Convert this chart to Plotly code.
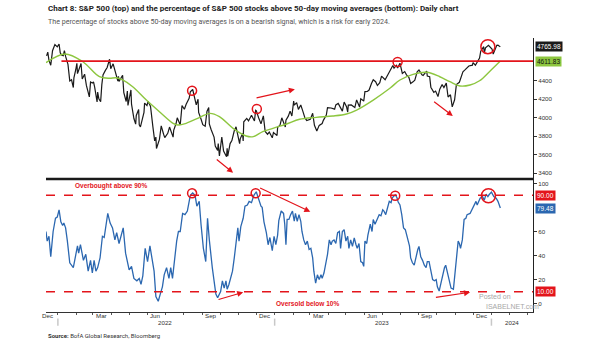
import plotly.graph_objects as go

# ---------------- DATA ----------------
sp_dates = ["2021-12-13","2021-12-15","2021-12-17","2021-12-20","2021-12-23","2021-12-27","2021-12-31",
"2022-01-03","2022-01-05","2022-01-07","2022-01-10","2022-01-12","2022-01-14","2022-01-18","2022-01-21","2022-01-24","2022-01-27","2022-01-28","2022-01-31",
"2022-02-02","2022-02-03","2022-02-04","2022-02-09","2022-02-11","2022-02-15","2022-02-18","2022-02-23","2022-02-25","2022-02-28",
"2022-03-02","2022-03-04","2022-03-08","2022-03-09","2022-03-11","2022-03-14","2022-03-16","2022-03-18","2022-03-22","2022-03-25","2022-03-29","2022-03-31",
"2022-04-04","2022-04-08","2022-04-12","2022-04-13","2022-04-14","2022-04-20","2022-04-22","2022-04-26","2022-04-28","2022-04-29",
"2022-05-04","2022-05-05","2022-05-09","2022-05-12","2022-05-13","2022-05-17","2022-05-18","2022-05-20","2022-05-26","2022-05-27","2022-05-31",
"2022-06-02","2022-06-06","2022-06-10","2022-06-13","2022-06-15","2022-06-16","2022-06-21","2022-06-24","2022-06-28","2022-06-30",
"2022-07-05","2022-07-08","2022-07-14","2022-07-15","2022-07-19","2022-07-21","2022-07-26","2022-07-27","2022-07-29",
"2022-08-02","2022-08-05","2022-08-10","2022-08-12","2022-08-16","2022-08-19","2022-08-22","2022-08-25","2022-08-26","2022-08-30",
"2022-09-02","2022-09-06","2022-09-09","2022-09-12","2022-09-13","2022-09-16","2022-09-21","2022-09-23","2022-09-27","2022-09-28","2022-09-30",
"2022-10-04","2022-10-07","2022-10-12","2022-10-13","2022-10-14","2022-10-18","2022-10-21","2022-10-25","2022-10-28",
"2022-11-03","2022-11-04","2022-11-08","2022-11-09","2022-11-10","2022-11-15","2022-11-18","2022-11-23","2022-11-28","2022-11-30",
"2022-12-01","2022-12-05","2022-12-09","2022-12-13","2022-12-16","2022-12-20","2022-12-23","2022-12-28","2022-12-30",
"2023-01-05","2023-01-06","2023-01-10","2023-01-13","2023-01-19","2023-01-20","2023-01-24","2023-01-27","2023-01-30",
"2023-02-02","2023-02-03","2023-02-07","2023-02-10","2023-02-14","2023-02-17","2023-02-21","2023-02-24",
"2023-03-02","2023-03-06","2023-03-09","2023-03-13","2023-03-15","2023-03-17","2023-03-22","2023-03-24","2023-03-29","2023-03-31",
"2023-04-06","2023-04-12","2023-04-14","2023-04-18","2023-04-25","2023-04-28",
"2023-05-02","2023-05-04","2023-05-05","2023-05-10","2023-05-16","2023-05-19","2023-05-24","2023-05-26","2023-05-31",
"2023-06-02","2023-06-06","2023-06-09","2023-06-13","2023-06-16","2023-06-20","2023-06-23","2023-06-27","2023-06-30",
"2023-07-06","2023-07-12","2023-07-14","2023-07-19","2023-07-21","2023-07-25","2023-07-27","2023-07-31",
"2023-08-02","2023-08-04","2023-08-08","2023-08-11","2023-08-15","2023-08-18","2023-08-22","2023-08-25","2023-08-29",
"2023-09-01","2023-09-06","2023-09-08","2023-09-14","2023-09-15","2023-09-19","2023-09-21","2023-09-26","2023-09-29",
"2023-10-03","2023-10-06","2023-10-10","2023-10-13","2023-10-17","2023-10-20","2023-10-24","2023-10-27","2023-10-31",
"2023-11-02","2023-11-03","2023-11-08","2023-11-10","2023-11-14","2023-11-17","2023-11-21","2023-11-24","2023-11-30",
"2023-12-01","2023-12-05","2023-12-08","2023-12-12","2023-12-14","2023-12-19","2023-12-20","2023-12-22","2023-12-27","2023-12-29",
"2024-01-02","2024-01-04","2024-01-08","2024-01-10","2024-01-12","2024-01-16"]
sp_close = [4669,4709,4620,4568,4725,4791,4766,
4797,4701,4677,4670,4726,4663,4577,4398,4410,4326,4432,4516,
4589,4477,4500,4587,4419,4471,4349,4225,4385,4374,
4387,4329,4171,4278,4204,4173,4358,4463,4512,4543,4632,4530,
4583,4488,4397,4447,4393,4459,4272,4175,4288,4132,
4300,4147,3991,3930,4024,4089,3923,3901,4058,4158,4132,
4177,4121,3901,3750,3790,3667,3765,3912,3821,3785,
3831,3899,3790,3863,3937,3999,3921,4024,4130,
4091,4145,4210,4280,4305,4228,4138,4199,4058,3986,
3924,3908,4067,4110,3932,3873,3790,3693,3647,3720,3586,
3791,3640,3577,3670,3583,3720,3752,3859,3901,
3720,3771,3828,3749,3956,3992,3965,4027,3964,4080,
4076,3999,3934,4019,3852,3821,3845,3783,3840,
3808,3895,3919,3999,3899,3973,4017,4071,4018,
4180,4136,4164,4090,4137,4079,3997,3970,
3982,4048,3918,3856,3892,3917,3937,3971,4028,4109,
4105,4092,4138,4154,4071,4169,
4119,4061,4136,4138,4110,4192,4115,4205,4180,
4282,4283,4299,4369,4410,4389,4348,4378,4450,
4411,4473,4505,4565,4536,4567,4537,4589,
4513,4478,4499,4464,4437,4370,4388,4406,4497,
4516,4465,4457,4505,4450,4444,4330,4274,4288,
4229,4308,4358,4327,4374,4224,4248,4117,4194,
4318,4358,4383,4415,4496,4514,4538,4559,4568,
4595,4567,4604,4644,4720,4768,4698,4755,4782,4770,
4743,4689,4764,4783,4784,4766]

ma_dates = ["2021-12-12","2022-01-13","2022-02-12","2022-03-12","2022-03-29","2022-04-09","2022-04-20","2022-05-07",
"2022-05-30","2022-06-21","2022-07-14","2022-07-22","2022-08-05","2022-08-28","2022-09-14","2022-09-30","2022-10-23",
"2022-11-14","2022-11-26","2022-12-12","2022-12-29","2023-01-21","2023-02-12","2023-03-12","2023-04-09","2023-05-02",
"2023-05-19","2023-06-16","2023-07-14","2023-07-31","2023-08-22","2023-09-14","2023-10-06","2023-10-23","2023-11-09",
"2023-11-26","2023-12-12","2023-12-29","2024-01-16"]
ma_vals = [4595,4689,4605,4443,4426,4432,4408,4335,
4191,4065,3939,3921,3939,4004,4047,4011,3885,
3802,3795,3849,3885,3932,3983,4004,4018,4040,
4083,4191,4318,4408,4469,4491,4443,4389,4343,
4354,4400,4500,4612]

pct_dates = ["2021-12-12","2021-12-14","2021-12-17","2021-12-20","2021-12-24","2021-12-28","2021-12-31",
"2022-01-03","2022-01-06","2022-01-09","2022-01-11","2022-01-14","2022-01-17","2022-01-21","2022-01-27","2022-01-31",
"2022-02-03","2022-02-05","2022-02-08","2022-02-13","2022-02-17","2022-02-21","2022-02-25","2022-02-28",
"2022-03-03","2022-03-06","2022-03-09","2022-03-13","2022-03-17","2022-03-20","2022-03-22","2022-03-26","2022-03-30",
"2022-04-03","2022-04-07","2022-04-10","2022-04-14","2022-04-17","2022-04-21","2022-04-25",
"2022-05-01","2022-05-05","2022-05-09","2022-05-14","2022-05-18","2022-05-21","2022-05-24","2022-05-28",
"2022-06-01","2022-06-05","2022-06-07","2022-06-12","2022-06-15","2022-06-19","2022-06-23","2022-06-26","2022-06-29",
"2022-07-03","2022-07-07","2022-07-10","2022-07-13","2022-07-16","2022-07-20","2022-07-23","2022-07-26","2022-07-30",
"2022-08-03","2022-08-07","2022-08-12","2022-08-16","2022-08-20","2022-08-23","2022-08-27","2022-08-30",
"2022-09-03","2022-09-07","2022-09-10","2022-09-13","2022-09-16","2022-09-18","2022-09-21","2022-09-24","2022-09-27","2022-09-30",
"2022-10-02","2022-10-05","2022-10-08","2022-10-11","2022-10-13","2022-10-16","2022-10-19","2022-10-22","2022-10-25","2022-10-28","2022-10-31",
"2022-11-02","2022-11-05","2022-11-09","2022-11-12","2022-11-16","2022-11-19","2022-11-23","2022-11-27",
"2022-12-01","2022-12-04","2022-12-09","2022-12-11","2022-12-14","2022-12-18","2022-12-21","2022-12-24","2022-12-28","2022-12-31",
"2023-01-03","2023-01-06","2023-01-08","2023-01-12","2023-01-16","2023-01-18","2023-01-20","2023-01-22","2023-01-25","2023-01-28","2023-01-31",
"2023-02-03","2023-02-05","2023-02-08","2023-02-11","2023-02-14","2023-02-16","2023-02-19","2023-02-22","2023-02-25","2023-02-28",
"2023-03-03","2023-03-06","2023-03-08","2023-03-11","2023-03-14","2023-03-17","2023-03-20","2023-03-22","2023-03-25","2023-03-28","2023-03-31",
"2023-04-03","2023-04-06","2023-04-08","2023-04-11","2023-04-14","2023-04-17","2023-04-20","2023-04-22","2023-04-25","2023-04-28",
"2023-05-01","2023-05-04","2023-05-06","2023-05-09","2023-05-12","2023-05-15","2023-05-18","2023-05-20","2023-05-23","2023-05-26","2023-05-29","2023-05-31",
"2023-06-02","2023-06-05","2023-06-07","2023-06-11","2023-06-14","2023-06-16","2023-06-19","2023-06-22","2023-06-26","2023-06-29",
"2023-07-02","2023-07-04","2023-07-07","2023-07-10","2023-07-13","2023-07-16","2023-07-18","2023-07-23","2023-07-26","2023-07-28","2023-07-31",
"2023-08-03","2023-08-06","2023-08-09","2023-08-12","2023-08-16","2023-08-18","2023-08-21","2023-08-24","2023-08-27","2023-08-30",
"2023-09-01","2023-09-04","2023-09-07","2023-09-10","2023-09-13","2023-09-15","2023-09-18","2023-09-21","2023-09-24","2023-09-27","2023-09-30",
"2023-10-02","2023-10-05","2023-10-08","2023-10-11","2023-10-14","2023-10-16","2023-10-19","2023-10-22","2023-10-25","2023-10-29","2023-10-31",
"2023-11-04","2023-11-06","2023-11-08","2023-11-10","2023-11-13","2023-11-16","2023-11-19","2023-11-21","2023-11-26","2023-11-30",
"2023-12-03","2023-12-06","2023-12-08","2023-12-13","2023-12-17","2023-12-20","2023-12-23","2023-12-26","2023-12-28",
"2024-01-01","2024-01-05","2024-01-09","2024-01-12","2024-01-16"]
pct_vals = [60,52,56,39,60,71,72,
78,68,65,67,63,52,34,30,41,
48,42,49,36,41,27,36,25.5,
36,27,30,38,56,55,63,75,67,
63,53,59,50,55,63,42,
28,31,21,19,21,16,23,46,
35,48,41,27,6,2,9,14,24,
30,21,30,21,35,52,60,60,75,
74,77,90,92,90,81,85,66,
46,35,71,53,36,30,19,8,5,8,
10,19,13,19,12,16,21,27,38,52,63,
52,64,71,81,82,85,84,90,
93,88,81,80,68,59,49,55,44,56,
49,57,69,77,75,66,49,70,70,74,77,
68.5,75,68.5,74,68.5,60,53,49,52,45,
46,38,27,17,24,20,24,21,25.5,32,41,
53,49,52,53,50,59,60,46,60,61.5,
52,56,46,53,47.6,54.6,49,46,50,35,34,31,
52,50,57,66,60,70,66,70,74,73,
78,77,74,79.5,85,84,88,90.5,88,84.5,82,
74,63,61.5,56,48,38,34,32,39,45,
47.6,39,36,32,30,35,35,28,20,19,20,
14,10.5,17,24,30,32,25.5,21,13,12,21,
41,52,50,46,53,70,71,74,75,79.5,
82,85,82,87.6,89,86,91,89,90.5,
92.7,89,87.6,85,79.48]

resistance_level = 4611.83
sp_last, ma_last, pct_last = 4765.98, 4611.83, 79.48
overbought, oversold = 90, 10

top_circles = [("2022-08-15", 4292, 4.5), ("2022-12-02", 4094, 4.5), ("2023-07-27", 4602, 4.5), ("2023-12-26", 4768, 7)]
bot_circles = [("2022-08-15", 91.7, 4.5), ("2022-11-30", 91.7, 4.5), ("2023-07-23", 89.7, 4.5), ("2023-12-27", 89.7, 7)]
top_arrows = [("2022-09-23", 3561, "2022-10-23", 3405), ("2022-11-29", 4210, "2023-02-04", 4307), ("2023-09-24", 4184, "2023-10-28", 4018)]
bot_arrows = [("2022-09-26", 3.1, "2022-11-09", 9.5), ("2022-12-05", 96.7, "2023-03-02", 76.4), ("2023-09-27", 5.0, "2023-11-26", 9.5)]

month_ticks = ["2021-12-15","2022-03-15","2022-06-15","2022-09-15","2022-12-15","2023-03-15","2023-06-15","2023-09-15","2023-12-15"]
month_labels = ["Dec","Mar","Jun","Sep","Dec","Mar","Jun","Sep","Dec"]
year_pos = ["2022-07-01","2023-07-01","2024-02-04"]
year_labels = ["2022","2023","2024"]
year_starts = ["2022-01-01","2023-01-01","2024-01-01"]
month_starts = ["2021-12-01","2022-01-01","2022-02-01","2022-03-01","2022-04-01","2022-05-01","2022-06-01","2022-07-01",
"2022-08-01","2022-09-01","2022-10-01","2022-11-01","2022-12-01","2023-01-01","2023-02-01","2023-03-01","2023-04-01",
"2023-05-01","2023-06-01","2023-07-01","2023-08-01","2023-09-01","2023-10-01","2023-11-01","2023-12-01","2024-01-01",
"2024-02-01","2024-03-01"]

# ---------------- STYLE ----------------
RED = "#e3141b"
BLUE = "#2b67b0"
GREEN = "#8dc63f"
BLACK = "#1a1a1a"
NARROW = "Roboto, Liberation Sans, sans-serif"
TICKF = dict(family="Liberation Sans, Arial, sans-serif", size=6.2, color="#333")
split = 133 / 274.0
x_range = ["2021-12-12", "2024-03-11"]

fig = go.Figure()
fig.add_trace(go.Scatter(x=sp_dates, y=sp_close, mode="lines", line=dict(color=BLACK, width=1.2),
                         xaxis="x", yaxis="y", showlegend=False, hoverinfo="skip"))
fig.add_trace(go.Scatter(x=ma_dates, y=ma_vals, mode="lines", line=dict(color=GREEN, width=1.4, shape="spline"),
                         xaxis="x", yaxis="y", showlegend=False, hoverinfo="skip"))
fig.add_trace(go.Scatter(x=pct_dates, y=pct_vals, mode="lines", line=dict(color=BLUE, width=1.3),
                         xaxis="x2", yaxis="y2", showlegend=False, hoverinfo="skip"))

shapes = []
annotations = []

shapes.append(dict(type="line", xref="x", yref="y", x0="2022-01-07", x1=x_range[1], y0=resistance_level, y1=resistance_level,
                   line=dict(color=RED, width=1.6)))
for lv in (overbought, oversold):
    shapes.append(dict(type="line", xref="x2 domain", yref="y2", x0=0, x1=1, y0=lv, y1=lv,
                       line=dict(color=RED, width=1.5, dash="dash")))
shapes.append(dict(type="line", xref="paper", yref="paper", x0=0, x1=1, y0=split, y1=split,
                   line=dict(color=BLACK, width=2.5)))
for (d, v, r) in top_circles:
    shapes.append(dict(type="circle", xref="x", yref="y", xsizemode="pixel", ysizemode="pixel",
                       xanchor=d, yanchor=v, x0=-r, x1=r, y0=-r, y1=r, line=dict(color=RED, width=1.5)))
for (d, v, r) in bot_circles:
    shapes.append(dict(type="circle", xref="x2", yref="y2", xsizemode="pixel", ysizemode="pixel",
                       xanchor=d, yanchor=v, x0=-r, x1=r, y0=-r, y1=r, line=dict(color=RED, width=1.5)))
for d in year_starts:
    shapes.append(dict(type="line", xref="x2", yref="paper", x0=d, x1=d, y0=-0.05, y1=-0.024,
                       line=dict(color="#c8c8c8", width=1.5)))

for (x0, y0, x1, y1) in top_arrows:
    annotations.append(dict(x=x1, y=y1, ax=x0, ay=y0, xref="x", yref="y", axref="x", ayref="y", text="",
                            showarrow=True, arrowhead=2, arrowsize=1, arrowwidth=1.2, arrowcolor=RED))
for (x0, y0, x1, y1) in bot_arrows:
    annotations.append(dict(x=x1, y=y1, ax=x0, ay=y0, xref="x2", yref="y2", axref="x2", ayref="y2", text="",
                            showarrow=True, arrowhead=2, arrowsize=1, arrowwidth=1.2, arrowcolor=RED))

annotations.append(dict(x="2022-01-26", y=97.8, xref="x2", yref="y2", xanchor="left", yanchor="middle",
                        text="<b>Overbought above 90%</b>", showarrow=False,
                        font=dict(family="Liberation Sans, Arial, sans-serif", size=6.5, color=RED)))
annotations.append(dict(x="2022-12-31", y=0.3, xref="x2", yref="y2", xanchor="left", yanchor="middle",
                        text="<b>Oversold below 10%</b>", showarrow=False,
                        font=dict(family="Liberation Sans, Arial, sans-serif", size=6.5, color=RED)))

def tag(val, yref, bg, fg, txt):
    annotations.append(dict(x=1, y=val, xref="paper", yref=yref, xanchor="left", yanchor="middle", xshift=2,
                            text=txt, showarrow=False, bgcolor=bg, borderpad=1,
                            font=dict(family="Liberation Sans, Arial, sans-serif", size=6.5, color=fg)))
tag(sp_last, "y", BLACK, "white", f"{sp_last:.2f}")
tag(ma_last, "y", GREEN, "#111", f"{ma_last:.2f}")
tag(overbought, "y2", RED, "white", f"{overbought:.2f}")
tag(pct_last, "y2", BLUE, "white", f"{pct_last:.2f}")
tag(oversold, "y2", RED, "white", f"{oversold:.2f}")

for d, t in zip(month_ticks, month_labels):
    annotations.append(dict(x=d, y=-0.013, xref="x2", yref="paper", xanchor="center", yanchor="middle",
                            text=t, showarrow=False, font=TICKF))
for d, t in zip(year_pos, year_labels):
    annotations.append(dict(x=d, y=-0.037, xref="x2", yref="paper", xanchor="center", yanchor="middle",
                            text=t, showarrow=False, font=TICKF))

annotations.append(dict(x=0, y=1.107, xref="paper", yref="paper", xanchor="left", yanchor="middle", showarrow=False,
                        text="<b>Chart 8: S&P 500 (top) and the percentage of S&P 500 stocks above 50-day moving averages (bottom): Daily chart</b>",
                        font=dict(family=NARROW, size=8, color="#222")))
annotations.append(dict(x=0, y=1.06, xref="paper", yref="paper", xanchor="left", yanchor="middle", showarrow=False,
                        text="The percentage of stocks above 50-day moving averages is on a bearish signal, which is a risk for early 2024.",
                        font=dict(family=NARROW, size=7.1, color="#555")))
annotations.append(dict(x=0, y=-0.084, xref="paper", yref="paper", xanchor="left", yanchor="middle", showarrow=False,
                        text="<b>Source:</b> BofA Global Research, Bloomberg",
                        font=dict(family=NARROW, size=6, color="#333")))
annotations.append(dict(x=0.885, y=0.055, xref="paper", yref="paper", xanchor="left", yanchor="middle", showarrow=False,
                        text="Posted on", font=dict(family="Liberation Sans, Arial, sans-serif", size=7, color="#a8a8a8")))
annotations.append(dict(x=0.9, y=0.02, xref="paper", yref="paper", xanchor="left", yanchor="middle", showarrow=False,
                        text="ISABELNET.com", font=dict(family="Liberation Sans, Arial, sans-serif", size=7, color="#a8a8a8")))

fig.update_layout(
    width=605, height=341,
    margin=dict(l=46, r=72, t=38, b=29),
    paper_bgcolor="white", plot_bgcolor="white",
    shapes=shapes, annotations=annotations,
    xaxis=dict(domain=[0, 1], anchor="y", range=x_range, matches="x2", showticklabels=False,
               showgrid=False, zeroline=False, ticks=""),
    xaxis2=dict(domain=[0, 1], anchor="y2", range=x_range, showgrid=False, zeroline=False,
                tickmode="array", tickvals=month_starts, showticklabels=False,
                ticks="outside", ticklen=2, tickcolor="#555",
                showline=True, linecolor="#333", linewidth=1),
    yaxis=dict(domain=[split, 1], anchor="x", side="right", range=[3337, 4862], tickmode="array",
               tickvals=[3400, 3600, 3800, 4000, 4200, 4400], ticks="outside", ticklen=3, tickcolor="#333",
               tickfont=TICKF, showgrid=False, zeroline=False, showline=True, linecolor="#222", linewidth=1),
    yaxis2=dict(domain=[0, split], anchor="x2", side="right", range=[-6.9, 103.6], tickmode="array",
                tickvals=[0, 20, 40, 60, 100], ticks="outside", ticklen=3, tickcolor="#333",
                tickfont=TICKF, showgrid=False, zeroline=False, showline=True, linecolor="#222", linewidth=1),
)

fig.write_html("out.html")
